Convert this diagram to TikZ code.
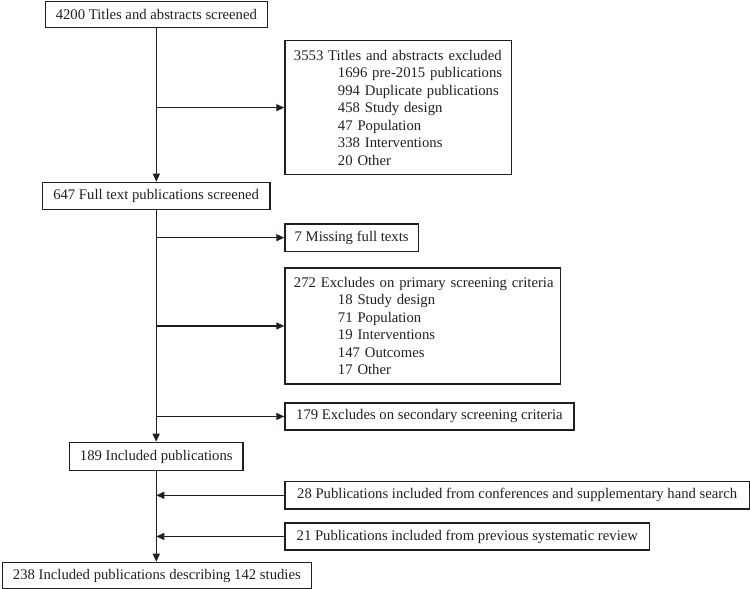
\documentclass[tikz,border=0pt]{standalone}
\usepackage{fontspec}
\setmainfont{Liberation Serif}
\usetikzlibrary{arrows.meta}
\definecolor{ink}{RGB}{35,31,32}
\begin{document}
\begin{tikzpicture}[x=1pt,y=-1pt,
  box/.style={draw=ink,line width=1.3pt,anchor=north west,inner xsep=9pt,inner ysep=0pt,
    font=\fontsize{14.7pt}{17.5pt}\selectfont,text=ink},
  lbox/.style={box,align=left},
  arr/.style={draw=ink,line width=1.3pt,-{Triangle[length=8pt,width=7pt]}}]
\useasboundingbox (0,0) rectangle (750,589);
\node[box,minimum width=222pt,minimum height=26pt] (b1) at (44.7,1) {4200 Titles and abstracts screened};
\node[lbox,text width=208.7pt,minimum width=226.7pt,minimum height=134pt] (b2) at (284.3,40)
  {\mbox{3553 Titles and abstracts excluded}\\
   \hspace*{44pt}\mbox{1696 pre-2015 publications}\\
   \hspace*{44pt}\mbox{994 Duplicate publications}\\
   \hspace*{44pt}458 Study design\\
   \hspace*{44pt}47 Population\\
   \hspace*{44pt}338 Interventions\\
   \hspace*{44pt}20 Other};
\node[box,minimum width=227.6pt,minimum height=27.3pt] (b3) at (41.7,181.7) {647 Full text publications screened};
\node[box,minimum width=133.4pt,minimum height=27.4pt] (b4) at (284.3,223.3) {7 Missing full texts};
\node[lbox,text width=257.7pt,minimum width=275.7pt,minimum height=116pt] (b5) at (284.3,267.3)
  {\mbox{272 Excludes on primary screening criteria}\\
   \hspace*{44pt}18 Study design\\
   \hspace*{44pt}71 Population\\
   \hspace*{44pt}19 Interventions\\
   \hspace*{44pt}147 Outcomes\\
   \hspace*{44pt}17 Other};
\node[box,minimum width=289pt,minimum height=27pt] (b6) at (284.3,402.3) {179 Excludes on secondary screening criteria};
\node[box,minimum width=173.3pt,minimum height=28.3pt] (b7) at (69,441.7) {189 Included publications};
\node[box,minimum width=464.5pt,minimum height=27.3pt] (b8) at (284.3,481) {28 Publications included from conferences and supplementary hand search};
\node[box,minimum width=364.7pt,minimum height=27pt] (b9) at (284.3,522.3) {21 Publications included from previous systematic review};
\node[box,minimum width=309pt,minimum height=26.5pt] (b10) at (1.7,561.7) {238 Included publications describing 142 studies};
% connectors
\draw[arr] (b1.south) -- (b1.south |- b3.north);
\draw[arr] (b1.south |- b2.west) -- (b2.west);
\draw[arr] (b3.south) -- (b3.south |- b7.north);
\draw[arr] (b3.south |- b4.west) -- (b4.west);
\draw[arr] (b3.south |- b5.west) -- (b5.west);
\draw[arr] (b3.south |- b6.west) -- (b6.west);
\draw[arr] (b7.south) -- (b7.south |- b10.north);
\draw[arr] (b8.west) -- (b7.south |- b8.west);
\draw[arr] (b9.west) -- (b7.south |- b9.west);
\end{tikzpicture}
\end{document}
